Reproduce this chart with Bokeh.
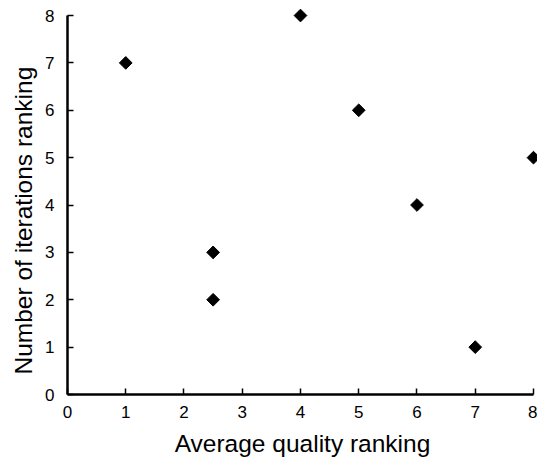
import math
from bokeh.plotting import figure
from bokeh.embed import file_html
from bokeh.resources import INLINE
from bokeh.models import Range1d, FixedTicker, Title

quality_rank = [1, 2.5, 2.5, 4, 5, 6, 7, 8]
iteration_rank = [7, 3, 2, 8, 6, 4, 1, 5]
ticks = [0, 1, 2, 3, 4, 5, 6, 7, 8]

p = figure(width=537, height=460, output_backend="svg", toolbar_location=None,
           x_range=Range1d(0, 8.069), y_range=Range1d(0, 8.317),
           min_border_left=67, min_border_right=0, min_border_top=0, min_border_bottom=66)
p.outline_line_color = None
p.xgrid.visible = False
p.ygrid.visible = False

p.scatter(quality_rank, iteration_rank, marker="square", angle=math.pi / 4,
          size=9, color="black")

FONT = "Liberation Sans"
for ax in (p.xaxis, p.yaxis):
    ax.ticker = FixedTicker(ticks=ticks)
    ax.bounds = (0, 8)
    ax.minor_tick_line_color = None
    ax.major_tick_in = 6
    ax.major_tick_out = 0
    ax.axis_line_width = 2.5
    ax.major_tick_line_width = 1.5
    ax.axis_line_color = "black"
    ax.major_label_text_font = FONT
    ax.major_label_text_font_size = "17px"
    ax.major_label_text_color = "black"
    ax.axis_label_text_font = FONT
    ax.axis_label_text_font_size = "24.5px"
    ax.axis_label_text_font_style = "normal"
    ax.axis_label_text_color = "black"

p.xaxis.axis_label = "Average quality ranking"
p.xaxis.major_label_standoff = 11
p.yaxis.major_label_standoff = 13
p.xaxis.axis_label_standoff = 9

ytitle = Title(text="Number of iterations ranking", align="left", offset=20,
               standoff=12, text_font=FONT, text_font_size="24.5px",
               text_font_style="normal", text_color="black")
p.add_layout(ytitle, "left")

open("out.html", "w").write(file_html(p, INLINE))
